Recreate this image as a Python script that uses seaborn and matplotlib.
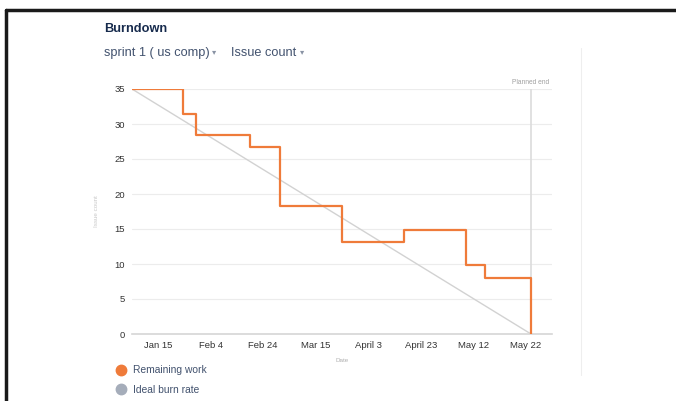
import matplotlib.pyplot as plt
import seaborn as sns
import pandas as pd
from matplotlib.lines import Line2D

# ---- data (x in tick-slot units, 0 = "Jan 15") ----
date_labels = ["Jan 15", "Feb 4", "Feb 24", "Mar 15", "April 3", "April 23", "May 12", "May 22"]
step_x = [-0.5, 0.48, 0.72, 1.75, 2.32, 3.5, 4.69, 5.86, 6.22, 7.1]
remaining = [35, 31.5, 28.4, 26.7, 18.3, 13.2, 14.8, 9.8, 8.05, 0]
ideal_x = [-0.5, 7.1]
ideal = [35, 0]
planned_end = 7.1
y_ticks = [0, 5, 10, 15, 20, 25, 30, 35]

ORANGE = "#ef7b3a"
IDEAL = "#d2d2d2"
LEGEND_GRAY = "#a5adba"
NAVY = "#172b4d"
SUB = "#42526e"

sns.set_theme(style="white")
plt.rcParams["font.family"] = ["Liberation Sans", "DejaVu Sans"]

fig = plt.figure(figsize=(6.76, 4.01), dpi=100)
ax = fig.add_axes([132 / 676, 1 - 334 / 401, 420 / 676, 245 / 401])

# grid lines
for y in y_ticks[1:]:
    ax.axhline(y, color="#ececec", lw=0.8, zorder=0)

sns.lineplot(x=ideal_x, y=ideal, ax=ax, color=IDEAL, lw=1.0, zorder=2)
sns.lineplot(x=step_x, y=remaining, ax=ax, color=ORANGE, lw=1.6,
             drawstyle="steps-post", sort=False, zorder=3)

ax.axvline(planned_end, ymin=0, ymax=1, color="#dcdcdc", lw=1.2, zorder=1)
ax.text(planned_end, 35.4, "Planned end", ha="center", va="bottom",
        fontsize=4.8, color="#a0a0a0")

ax.set_xlim(-0.5, 7.5)
ax.set_ylim(0, 35)
ax.set_xticks(range(len(date_labels)))
ax.set_xticklabels(date_labels)
ax.set_yticks(y_ticks)
ax.tick_params(axis="both", length=0, labelsize=6.8, labelcolor="#333333")
ax.tick_params(axis="x", pad=5)
ax.tick_params(axis="y", pad=5)
for s in ["left", "right", "top"]:
    ax.spines[s].set_visible(False)
ax.spines["bottom"].set_color("#d6d6d6")
ax.spines["bottom"].set_linewidth(1.2)

ax.set_xlabel("Date", fontsize=4.5, color="#b0b0b0", labelpad=6)
ax.set_ylabel("Issue count", fontsize=4.5, color="#c8c8c8", labelpad=11)

# header text
fig.text(104 / 676, 1 - 29 / 401, "Burndown", fontsize=9.2, fontweight="bold",
         color=NAVY, va="center", ha="left")
fig.text(104 / 676, 1 - 53 / 401, "sprint 1 ( us comp)", fontsize=9.2,
         color=SUB, va="center", ha="left")
fig.text(212 / 676, 1 - 53 / 401, "\u25be", fontsize=6, color="#8993a4",
         va="center", ha="left")
fig.text(231 / 676, 1 - 53 / 401, "Issue count", fontsize=9.2,
         color=SUB, va="center", ha="left")
fig.text(300 / 676, 1 - 53 / 401, "\u25be", fontsize=6, color="#8993a4",
         va="center", ha="left")

# legend
handles = [
    Line2D([], [], marker="o", linestyle="", markersize=7.5, color=ORANGE),
    Line2D([], [], marker="o", linestyle="", markersize=7.5, color=LEGEND_GRAY),
]
fig.legend(handles, ["Remaining work", "Ideal burn rate"], loc="upper left",
           bbox_to_anchor=(110 / 676, 1 - 360 / 401), frameon=False,
           fontsize=7.4, labelcolor=SUB, handletextpad=0.5, labelspacing=0.95,
           borderpad=0, handlelength=1.2)

# screenshot frame and side divider
fig.add_artist(Line2D([6 / 676, 1], [1 - 10 / 401, 1 - 10 / 401], color="#1a1a1a", lw=2.5))
fig.add_artist(Line2D([6 / 676, 6 / 676], [0, 1 - 10 / 401], color="#1a1a1a", lw=2.5))
fig.add_artist(Line2D([581 / 676, 581 / 676], [1 - 375 / 401, 1 - 48 / 401], color="#eeeeee", lw=0.8))

fig.savefig("out.png", dpi=100)
